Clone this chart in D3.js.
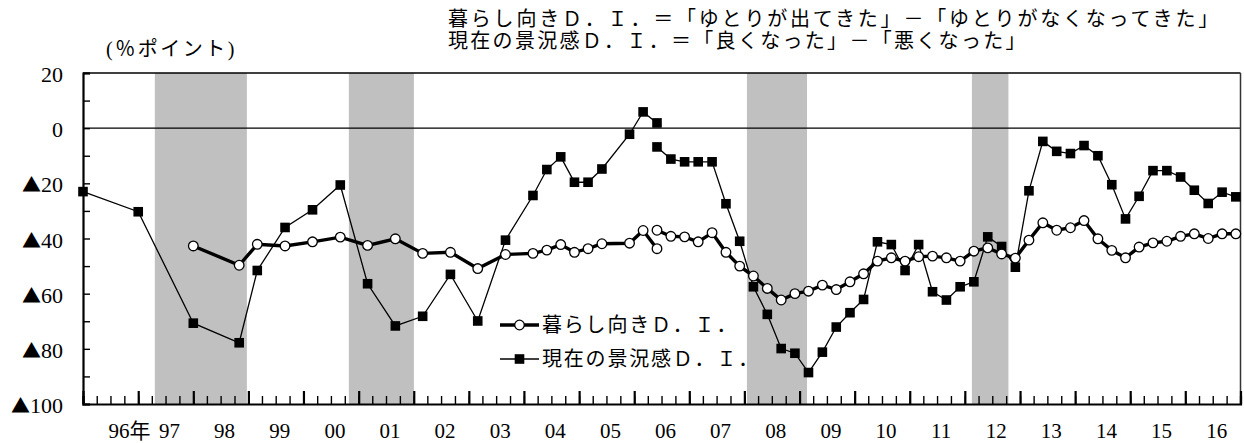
<!DOCTYPE html>
<html>
<head>
<meta charset="utf-8">
<script src="https://cdn.jsdelivr.net/npm/d3@7/dist/d3.min.js"></script>
<style>
  body { margin: 0; background: #fff; }
  text { font-family: "Liberation Serif", "Noto Sans CJK JP", serif; fill: #000; }
</style>
</head>
<body>
<script>
// ************************************
// *********** Data *******************
// ************************************

// old survey method (until 2006-06)
var oldDates = ["1996-01", "1997-01", "1998-01", "1998-11", "1999-03", "1999-09", "2000-03", "2000-09",
  "2001-03", "2001-09", "2002-03", "2002-09", "2003-03", "2003-09", "2004-03", "2004-06", "2004-09",
  "2004-12", "2005-03", "2005-06", "2005-12", "2006-03", "2006-06"];
var keikyoOld = [-23.0, -30.3, -70.7, -77.8, -51.6, -36.0, -29.6, -20.6,
  -56.4, -71.7, -68.2, -53.0, -69.9, -40.6, -24.4, -15.0, -10.4,
  -19.6, -19.6, -14.8, -2.2, 5.9, 1.9];
// 暮らし向き starts 1998-01
var kurashiOld = [null, null, -42.7, -49.7, -42.1, -42.7, -41.2, -39.5,
  -42.5, -40.1, -45.4, -45.0, -50.9, -45.8, -45.4, -44.2, -42.2,
  -45.0, -43.7, -41.9, -41.7, -37.1, -43.7];

// new survey method (from 2006-06, quarterly)
var newDates = ["2006-06", "2006-09", "2006-12",
  "2007-03", "2007-06", "2007-09", "2007-12", "2008-03", "2008-06", "2008-09", "2008-12",
  "2009-03", "2009-06", "2009-09", "2009-12", "2010-03", "2010-06", "2010-09", "2010-12",
  "2011-03", "2011-06", "2011-09", "2011-12", "2012-03", "2012-06", "2012-09", "2012-12",
  "2013-03", "2013-06", "2013-09", "2013-12", "2014-03", "2014-06", "2014-09", "2014-12",
  "2015-03", "2015-06", "2015-09", "2015-12", "2016-03", "2016-06", "2016-09", "2016-12"];
var keikyoNew = [-6.8, -11.2, -12.2,
  -12.2, -12.2, -27.4, -41.0, -57.5, -67.5, -79.9, -81.6,
  -88.6, -81.2, -72.1, -66.9, -62.1, -41.2, -42.2, -51.6,
  -42.2, -59.3, -62.3, -57.5, -55.7, -39.4, -42.9, -50.4,
  -22.7, -4.8, -8.4, -9.2, -6.3, -10.0, -20.5, -32.9,
  -24.7, -15.4, -15.4, -17.7, -22.5, -27.3, -23.2, -24.9];
var kurashiNew = [-37.0, -39.2, -39.4,
  -41.2, -37.9, -45.0, -50.0, -53.6, -58.1, -62.3, -60.0,
  -59.1, -56.9, -58.5, -55.7, -52.8, -48.2, -47.0, -48.2,
  -46.6, -46.4, -47.0, -48.2, -44.6, -43.4, -45.6, -47.1,
  -40.6, -34.3, -37.0, -36.1, -33.5, -40.1, -44.3, -47.0,
  -43.1, -41.6, -41.0, -39.2, -38.3, -40.0, -38.3, -38.3];

// shaded periods (recessions)
var bands = [["1997-04-21", "1998-12-22"], ["2000-10-28", "2002-01-02"],
  ["2008-01-18", "2009-02-19"], ["2012-02-17", "2012-10-16"]];

var yTickValues = [20, 0, -20, -40, -60, -80, -100];
var yTickLabels = ["20", "0", "20", "40", "60", "80", "100"]; // negatives get a ▲ prefix
var yearLabels = ["96年", "97", "98", "99", "00", "01", "02", "03", "04", "05", "06",
  "07", "08", "09", "10", "11", "12", "13", "14", "15", "16"];

var legendNames = ["暮らし向きＤ．Ｉ．", "現在の景況感Ｄ．Ｉ．"];
var titleLines = ["暮らし向きＤ．Ｉ．＝「ゆとりが出てきた」－「ゆとりがなくなってきた」",
  "現在の景況感Ｄ．Ｉ．＝「良くなった」－「悪くなった」"];

// ************************************
// *********** Drawing ****************
// ************************************

var parseM = d3.timeParse("%Y-%m");
var parseD = d3.timeParse("%Y-%m-%d");

var W = 1244, H = 443;
var pLeft = 83, pRight = 1240.5, pTop = 73, pBottom = 404;

var svg = d3.select("body").append("svg")
  .attr("width", W).attr("height", H);

var x = d3.scaleTime()
  .domain([new Date(1996, 0, 1), new Date(2017, 0, 1)])
  .range([pLeft, pRight]);
var y = d3.scaleLinear().domain([-100, 20]).range([pBottom, pTop]);

function pairs(dates, vals) {
  var out = [];
  dates.forEach(function (d, i) {
    if (vals[i] != null) out.push({ date: parseM(d), v: vals[i] });
  });
  return out;
}
var kOld = pairs(oldDates, keikyoOld), kNew = pairs(newDates, keikyoNew);
var rOld = pairs(oldDates, kurashiOld), rNew = pairs(newDates, kurashiNew);

// gray bands
svg.selectAll("rect.band").data(bands).enter().append("rect")
  .attr("class", "band")
  .attr("x", function (d) { return x(parseD(d[0])); })
  .attr("width", function (d) { return x(parseD(d[1])) - x(parseD(d[0])); })
  .attr("y", pTop).attr("height", pBottom - pTop)
  .attr("fill", "#c0c0c0");

// zero line
svg.append("line")
  .attr("x1", pLeft).attr("x2", pRight)
  .attr("y1", y(0)).attr("y2", y(0))
  .attr("stroke", "#000").attr("stroke-width", 1.3);

// frame top / right
svg.append("line").attr("x1", pLeft).attr("x2", pRight).attr("y1", pTop).attr("y2", pTop)
  .attr("stroke", "#000").attr("stroke-width", 1.5);
svg.append("line").attr("x1", pRight).attr("x2", pRight).attr("y1", pTop).attr("y2", pBottom)
  .attr("stroke", "#333").attr("stroke-width", 1.5);

// y axis (ticks inside)
var yAxis = d3.axisLeft(y).tickValues(d3.range(-100, 21, 10)).tickSize(-7).tickFormat("");
var gy = svg.append("g").attr("transform", "translate(" + pLeft + ",0)").call(yAxis);
gy.select(".domain").attr("stroke-width", 2.2);
gy.selectAll(".tick line").attr("stroke-width", 1.4);

var ylab = svg.selectAll("text.ylab").data(yTickValues).enter().append("text")
  .attr("class", "ylab")
  .attr("x", 63).attr("y", function (d) { return y(d) + 9; })
  .attr("text-anchor", "end")
  .style("font-size", "22px");
ylab.filter(function (d) { return d < 0; }).append("tspan")
  .style("font-family", "'Noto Sans CJK JP'").style("font-size", "19px")
  .text("▲");
ylab.append("tspan").text(function (d, i) { return yTickLabels[i]; });

// x axis: quarter ticks + taller year ticks
var qAxis = d3.axisBottom(x).ticks(d3.timeMonth.every(3)).tickSize(-8).tickFormat("");
var gq = svg.append("g").attr("transform", "translate(0," + pBottom + ")").call(qAxis);
gq.selectAll(".tick line").attr("stroke-width", 1.4);
gq.select(".domain").attr("stroke-width", 2.2);
var yrAxis = d3.axisBottom(x).ticks(d3.timeYear.every(1)).tickSize(-13).tickFormat("");
var gyr = svg.append("g").attr("transform", "translate(0," + pBottom + ")").call(yrAxis);
gyr.selectAll(".tick line").attr("stroke-width", 2.2);
gyr.select(".domain").remove();

svg.selectAll("text.xlab").data(yearLabels).enter().append("text")
  .attr("class", "xlab")
  .attr("x", function (d, i) {
    var mid = x(new Date(1996 + i, 6, 1)) + 4;
    return i === 0 ? mid - 6 : mid;
  })
  .attr("y", 438)
  .attr("text-anchor", function (d, i) { return i === 0 ? "start" : "middle"; })
  .style("font-size", "21px")
  .text(function (d) { return d; });

// lines
var line = d3.line().x(function (d) { return x(d.date); }).y(function (d) { return y(d.v); });

[kOld, kNew].forEach(function (s) {
  svg.append("path").datum(s).attr("d", line)
    .attr("fill", "none").attr("stroke", "#000").attr("stroke-width", 1.3);
  svg.append("g").selectAll("rect").data(s).enter().append("rect")
    .attr("x", function (d) { return x(d.date) - 4.8; })
    .attr("y", function (d) { return y(d.v) - 4.8; })
    .attr("width", 9.6).attr("height", 9.6)
    .attr("fill", "#000");
});

[rOld, rNew].forEach(function (s) {
  svg.append("path").datum(s).attr("d", line)
    .attr("fill", "none").attr("stroke", "#000").attr("stroke-width", 3.4);
  svg.append("g").selectAll("circle").data(s).enter().append("circle")
    .attr("cx", function (d) { return x(d.date); })
    .attr("cy", function (d) { return y(d.v); })
    .attr("r", 4.8)
    .attr("fill", "#fff").attr("stroke", "#000").attr("stroke-width", 1.3);
});

// legend
var lg = svg.append("g");
[325, 359].forEach(function (ly, i) {
  lg.append("line").attr("x1", 500).attr("x2", 539).attr("y1", ly).attr("y2", ly)
    .attr("stroke", "#000").attr("stroke-width", i === 0 ? 3.4 : 1.3);
  if (i === 0) {
    lg.append("circle").attr("cx", 519.5).attr("cy", ly).attr("r", 4.8)
      .attr("fill", "#fff").attr("stroke", "#000").attr("stroke-width", 1.3);
  } else {
    lg.append("rect").attr("x", 519.5 - 4.8).attr("y", ly - 4.8)
      .attr("width", 9.6).attr("height", 9.6).attr("fill", "#000");
  }
  lg.append("text").attr("x", 542).attr("y", ly + 7)
    .style("font-size", "20px").style("letter-spacing", "1.8px")
    .text(legendNames[i]);
});

// titles
svg.selectAll("text.title").data(titleLines).enter().append("text")
  .attr("class", "title")
  .attr("x", 448).attr("y", function (d, i) { return 26 + i * 22; })
  .style("font-size", "20px")
  .style("letter-spacing", function (d, i) { return i === 0 ? "2.8px" : "2.3px"; })
  .text(function (d) { return d; });

svg.append("text").attr("x", 106).attr("y", 56)
  .style("font-size", "20px").style("letter-spacing", "2.5px")
  .text("(％ポイント)");
</script>
</body>
</html>
